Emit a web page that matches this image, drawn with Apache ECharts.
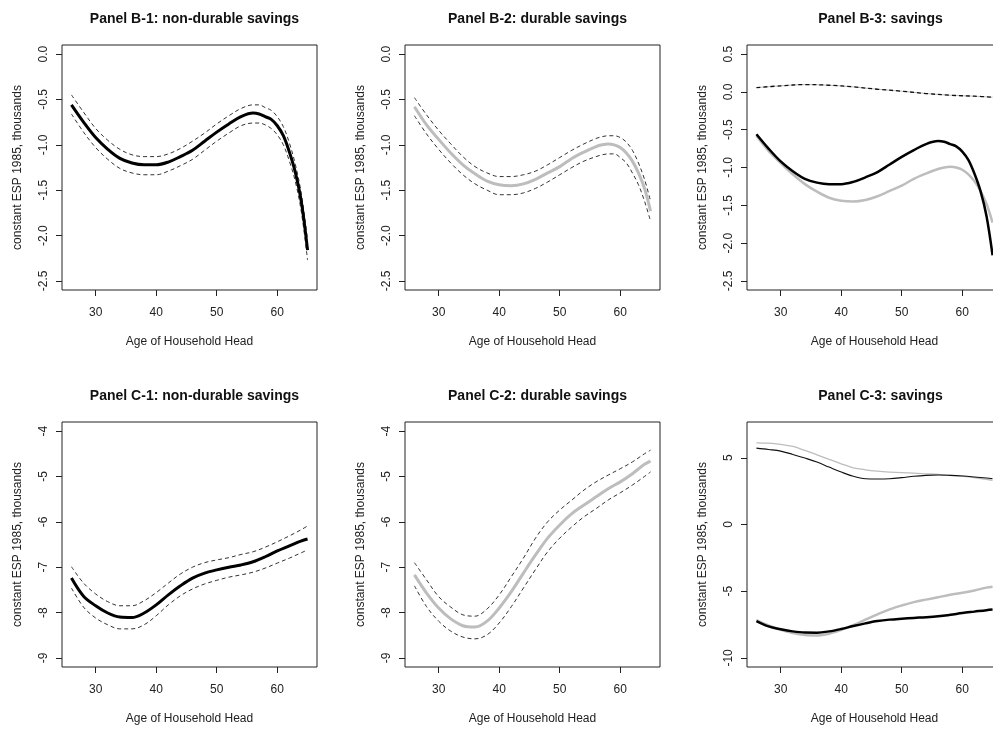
<!DOCTYPE html>
<html>
<head>
<meta charset="utf-8">
<script src="https://cdn.jsdelivr.net/npm/echarts@6/dist/echarts.min.js"></script>
<style>
html,body{margin:0;padding:0;background:#fff;}
#main{width:993px;height:730px;}
</style>
</head>
<body>
<div id="main"></div>
<script>
var agesB = [26,28,30,32,34,36,38,40,42,44,46,48,50,52,54,56,57,58,59,60,61,62,63,64,65];
var agesC = [26,28,30,32,34,36,38,40,42,44,46,48,50,52,54,56,58,60,62,64,65];
var agesTop = [26,30,34,38,42,46,50,54,58,62,65];

// Panel B-1: non-durable savings (estimate + dashed bands)
var b1Mid = [-0.56,-0.75,-0.92,-1.05,-1.15,-1.20,-1.22,-1.22,-1.19,-1.13,-1.06,-0.96,-0.86,-0.77,-0.69,-0.65,-0.66,-0.69,-0.72,-0.79,-0.90,-1.08,-1.31,-1.64,-2.16];
var b1Up  = [-0.45,-0.64,-0.82,-0.95,-1.05,-1.11,-1.13,-1.13,-1.10,-1.04,-0.96,-0.87,-0.77,-0.68,-0.60,-0.56,-0.56,-0.59,-0.62,-0.69,-0.80,-0.98,-1.22,-1.55,-2.05];
var b1Low = [-0.66,-0.86,-1.03,-1.16,-1.26,-1.31,-1.33,-1.33,-1.29,-1.23,-1.16,-1.06,-0.96,-0.87,-0.79,-0.76,-0.76,-0.78,-0.82,-0.89,-1.00,-1.18,-1.41,-1.75,-2.27];

// Panel B-2: durable savings
var b2Mid = [-0.58,-0.78,-0.94,-1.09,-1.22,-1.32,-1.40,-1.44,-1.45,-1.43,-1.38,-1.31,-1.24,-1.15,-1.08,-1.02,-1.00,-0.99,-1.00,-1.03,-1.09,-1.18,-1.31,-1.48,-1.73];
var b2Up  = [-0.48,-0.67,-0.84,-0.99,-1.13,-1.24,-1.31,-1.35,-1.35,-1.33,-1.29,-1.22,-1.14,-1.06,-0.99,-0.93,-0.91,-0.90,-0.90,-0.92,-0.97,-1.06,-1.20,-1.38,-1.62];
var b2Low = [-0.68,-0.88,-1.05,-1.20,-1.33,-1.43,-1.50,-1.55,-1.55,-1.53,-1.48,-1.41,-1.33,-1.25,-1.18,-1.13,-1.11,-1.10,-1.10,-1.14,-1.20,-1.31,-1.44,-1.62,-1.84];

// Panel B-3: thin line near zero
var b3Top = [0.057,0.080,0.097,0.088,0.066,0.035,0.009,-0.022,-0.044,-0.057,-0.070];

// Panel C-1: non-durable savings
var c1Mid = [-7.24,-7.64,-7.85,-8.01,-8.10,-8.11,-8.01,-7.83,-7.61,-7.41,-7.24,-7.13,-7.06,-7.00,-6.95,-6.88,-6.77,-6.64,-6.53,-6.42,-6.38];
var c1Up  = [-6.99,-7.35,-7.59,-7.76,-7.85,-7.85,-7.74,-7.56,-7.35,-7.15,-7.00,-6.90,-6.84,-6.79,-6.72,-6.66,-6.56,-6.44,-6.31,-6.17,-6.09];
var c1Low = [-7.46,-7.88,-8.12,-8.27,-8.36,-8.36,-8.27,-8.07,-7.83,-7.63,-7.48,-7.37,-7.29,-7.22,-7.17,-7.11,-7.02,-6.91,-6.80,-6.68,-6.62];

// Panel C-2: durable savings
var c2Mid = [-7.17,-7.57,-7.90,-8.14,-8.29,-8.32,-8.19,-7.90,-7.54,-7.13,-6.73,-6.36,-6.07,-5.82,-5.63,-5.45,-5.27,-5.12,-4.94,-4.73,-4.66];
var c2Up  = [-6.90,-7.28,-7.65,-7.88,-8.05,-8.08,-7.92,-7.61,-7.21,-6.80,-6.36,-6.00,-5.74,-5.52,-5.30,-5.12,-4.97,-4.83,-4.68,-4.50,-4.42];
var c2Low = [-7.41,-7.87,-8.19,-8.41,-8.54,-8.58,-8.49,-8.23,-7.87,-7.46,-7.05,-6.66,-6.36,-6.11,-5.89,-5.71,-5.52,-5.36,-5.19,-5.00,-4.90];

// Panel C-3: upper thin lines
var c3TopGray  = [6.12,6.09,6.00,5.85,5.55,5.22,4.88,4.55,4.25,4.10,4.00,3.93,3.88,3.85,3.80,3.75,3.68,3.63,3.51,3.38,3.31];
var c3TopBlack = [5.72,5.62,5.50,5.25,4.98,4.68,4.30,3.93,3.61,3.43,3.41,3.43,3.51,3.61,3.68,3.71,3.68,3.63,3.56,3.48,3.43];

// tick labels
var xTicks = [30,40,50,60];
var yTicksB = [0,-0.5,-1,-1.5,-2,-2.5];
var yTicksB3 = [0.5,0,-0.5,-1,-1.5,-2,-2.5];
var yTicksC = [-4,-5,-6,-7,-8,-9];
var yTicksC3 = [5,0,-5,-10];

var titles = ['Panel B-1: non-durable savings','Panel B-2: durable savings','Panel B-3: savings',
              'Panel C-1: non-durable savings','Panel C-2: durable savings','Panel C-3: savings'];

function pts(ages, vals){
    return ages.map(function(a,i){ return [a, vals[i]]; });
}

var FONT = '"Liberation Sans", Arial, sans-serif';
var colLeft = [62, 405, 747];
var rowTop = [45, 422];
var W = 255, H = 245;

// y ranges per panel (R style, 4% padding)
var yRange = [[-2.6,0.1],[-2.6,0.1],[-2.62,0.62],[-9.2,-3.8],[-9.2,-3.8],[-10.68,7.68]];
var yTicks = [yTicksB, yTicksB, yTicksB3, yTicksC, yTicksC, yTicksC3];
var oneDec = [true,true,true,false,false,false];

var grid = [], xAxis = [], yAxis = [], title = [];
for (var i = 0; i < 6; i++) {
    var r = Math.floor(i/3), c = i%3;
    // last column runs past the right edge of the picture, like the source
    grid.push({left: colLeft[c], top: rowTop[r], width: W, height: H, outerBoundsMode: 'none',
        show: true, borderColor: '#222', borderWidth: 1, backgroundColor: 'transparent'});
    title.push({text: titles[i], left: colLeft[c] + W/2 + (c==2 ? 1 : 0), top: r == 0 ? 7 : 384, textAlign: 'center',
        textStyle: {fontFamily: FONT, fontSize: 14, fontWeight: 'bold', color: '#111'}});
    xAxis.push({gridIndex: i, type: 'value', min: 24.44, max: 66.56,
        axisLine: {show: false, onZero: false}, splitLine: {show: false},
        axisTick: {show: true, length: 6, customValues: xTicks, lineStyle: {color: '#222'}},
        axisLabel: {customValues: xTicks, margin: 17, fontFamily: FONT, fontSize: 12, color: '#222'},
        name: 'Age of Household Head', nameLocation: 'middle', nameGap: 46, nameMoveOverlap: false,
        nameTextStyle: {fontFamily: FONT, fontSize: 12, color: '#222'}});
    (function(dec){
        yAxis.push({gridIndex: i, type: 'value', min: yRange[i][0], max: yRange[i][1],
            axisLine: {show: false, onZero: false}, splitLine: {show: false},
            axisTick: {show: true, length: 6, customValues: yTicks[i], lineStyle: {color: '#222'}},
            axisLabel: {customValues: yTicks[i], rotate: 90, margin: 12, fontFamily: FONT, fontSize: 12, color: '#222',
                formatter: function(v){ return dec ? v.toFixed(1) : String(Math.round(v)); }},
            name: 'constant ESP 1985, thousands', nameLocation: 'middle', nameGap: 38, nameMoveOverlap: false,
            nameTextStyle: {fontFamily: FONT, fontSize: 12, color: '#222'}});
    })(oneDec[i]);
}

var GRAY = '#bdbdbd';
function line(idx, data, color, width, dashed){
    return {type: 'line', xAxisIndex: idx, yAxisIndex: idx, data: data, showSymbol: false,
        smooth: 0.35, silent: true, animation: false,
        lineStyle: {color: color, width: width, type: dashed ? [4,3] : 'solid'}};
}

var series = [
    // B-1
    line(0, pts(agesB, b1Up), '#333', 1, true),
    line(0, pts(agesB, b1Low), '#333', 1, true),
    line(0, pts(agesB, b1Mid), '#000', 3),
    // B-2
    line(1, pts(agesB, b2Mid), GRAY, 3),
    line(1, pts(agesB, b2Up), '#333', 1, true),
    line(1, pts(agesB, b2Low), '#333', 1, true),
    // B-3
    line(2, pts(agesTop, b3Top), GRAY, 1),
    line(2, pts(agesTop, b3Top), '#111', 1.3, true),
    line(2, pts(agesB, b2Mid), GRAY, 2.5),
    line(2, pts(agesB, b1Mid), '#000', 2.5),
    // C-1
    line(3, pts(agesC, c1Up), '#333', 1, true),
    line(3, pts(agesC, c1Low), '#333', 1, true),
    line(3, pts(agesC, c1Mid), '#000', 3),
    // C-2
    line(4, pts(agesC, c2Mid), GRAY, 3),
    line(4, pts(agesC, c2Up), '#333', 1, true),
    line(4, pts(agesC, c2Low), '#333', 1, true),
    // C-3
    line(5, pts(agesC, c3TopGray), GRAY, 1.3),
    line(5, pts(agesC, c3TopBlack), '#111', 1.1),
    line(5, pts(agesC, c2Mid), GRAY, 2.5),
    line(5, pts(agesC, c1Mid), '#000', 2.5)
];

var chart = echarts.init(document.getElementById('main'), null, {renderer: 'canvas'});
chart.setOption({
    backgroundColor: '#fff',
    animation: false,
    title: title,
    grid: grid,
    xAxis: xAxis,
    yAxis: yAxis,
    series: series
});
</script>
</body>
</html>
